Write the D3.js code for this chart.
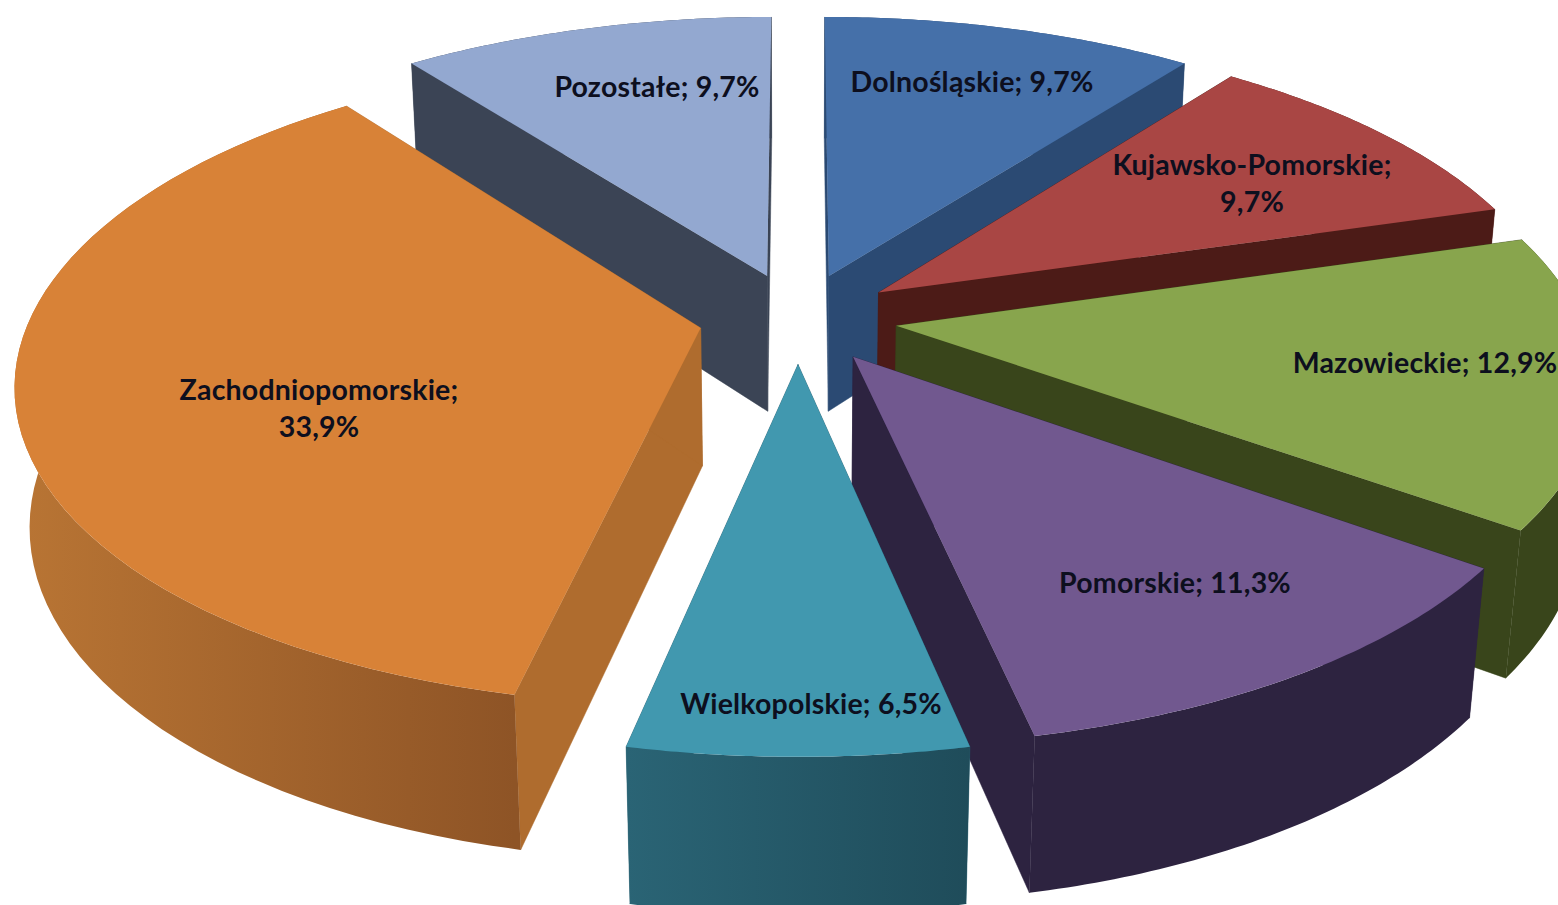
<!DOCTYPE html>
<html><head><meta charset="utf-8">
<style>html,body{margin:0;padding:0;background:#fff;overflow:hidden}svg{display:block}</style>
<script src="https://cdnjs.cloudflare.com/ajax/libs/d3/7.8.5/d3.min.js"></script>
</head><body><svg id="c" width="1558" height="905"></svg>
<script>
// DATA
const categories = ["Dolnośląskie","Kujawsko-Pomorskie","Mazowieckie","Pomorskie","Wielkopolskie","Zachodniopomorskie","Pozostałe"];
const labelPercent = ["9,7%","9,7%","12,9%","11,3%","6,5%","33,9%","9,7%"];
// share of the circle each slice actually occupies in the picture (measured from the arcs)
const drawnShare = [10.3,10.1,14.6,11.7,6.6,36.4,10.3];

// STYLE / LAYOUT
const topColor  = ["#4570A9","#A94644","#88A54D","#71588F","#4198AF","#D88237","#93A8D0"];
const wallColor = ["#2B4A73","#4C1B17","#39451B","#2D2340","#245F70","#AF6C2E","#3B4455"];
const arcFrom   = ["#2B4A73","#4C1B17","#39451B","#2D2340","#2A6475","#B97534","#3B4455"];
const arcTo     = ["#2B4A73","#4C1B17","#39451B","#2D2340","#1F4C5A","#8E5426","#3B4455"];
const paintOrder = [0,6,1,2,5,3,4];
const labelLines = [1,2,1,1,1,2,1];
const labelAt = [[972,82],[1252,165],[1425,363],[1175,583],[811,704],[319,390],[657,87]];
const sideSqueeze = [0,0,0,0,0,0.02,0];
const cam = {cx:798, cy:318, f:3800, D:5.55, tilt:Math.asin(0.457)};
const explode = 0.145, thick = 0.23;

function project(x,y,z){
  const st=Math.sin(cam.tilt), ct=Math.cos(cam.tilt);
  const yc=y*st+z*ct, zc=y*ct-z*st+cam.D, k=cam.f/zc;
  return [cam.cx+k*x, cam.cy-k*yc];
}
const svg=d3.select("#c");
const defs=svg.append("defs");
const pie=d3.pie().sort(null).value(d=>d);
const arcs=pie(drawnShare);
const line=d3.line();

paintOrder.forEach(i=>{
  const a=arcs[i], mid=(a.startAngle+a.endAngle)/2;
  const ox=explode*Math.sin(mid), oy=explode*Math.cos(mid);
  const P=(r,ang,z)=>{
    const rr=r*(1-sideSqueeze[i]*Math.sin(ang)*Math.sin(ang));
    return project(ox+rr*Math.sin(ang),oy+rr*Math.cos(ang),z);
  };
  const angs=d3.range(0,61).map(t=>a.startAngle+(a.endAngle-a.startAngle)*t/60);
  const g=svg.append("g").attr("class","slice");
  const col=wallColor[i];
  // radial walls
  [a.startAngle,a.endAngle].forEach(ang=>{
    g.append("path").attr("d",line([P(0,0,0),P(1,ang,0),P(1,ang,-thick),P(0,0,-thick)])+"Z")
     .attr("fill",col).attr("stroke",col).attr("stroke-width",.5);
  });
  // curved outer wall
  const top=angs.map(t=>P(1,t,0)), bot=angs.map(t=>P(1,t,-thick)).reverse();
  const xs=top.map(p=>p[0]);
  const id="w"+i;
  const gr=defs.append("linearGradient").attr("id",id).attr("gradientUnits","userSpaceOnUse")
    .attr("x1",d3.min(xs)).attr("x2",d3.max(xs)).attr("y1",0).attr("y2",0);
  gr.append("stop").attr("offset",0).attr("stop-color",arcFrom[i]);
  gr.append("stop").attr("offset",1).attr("stop-color",arcTo[i]);
  g.append("path").attr("d",line(top.concat(bot))+"Z").attr("fill",`url(#${id})`);
  // top face
  g.append("path").attr("d",line([P(0,0,0)].concat(top))+"Z").attr("fill",topColor[i]);
});

categories.forEach((c,i)=>{
  const [x,y]=labelAt[i];
  const t=svg.append("text").attr("x",x).attr("y",y+10).attr("text-anchor","middle")
    .attr("font-family","Lato, Carlito, sans-serif").attr("font-weight",700)
    .attr("font-size",28.5).attr("letter-spacing",0.2).attr("fill","#0D0F1E");
  if(labelLines[i]===2){
    t.append("tspan").attr("x",x).text(c+";");
    t.append("tspan").attr("x",x).attr("dy",37).text(labelPercent[i]);
  } else t.text(c+"; "+labelPercent[i]);
});
</script></body></html>
